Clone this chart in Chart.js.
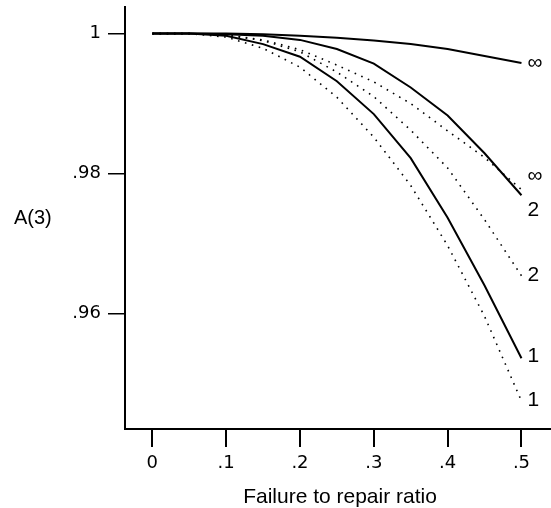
<!DOCTYPE html>
<html>
<head>
<meta charset="utf-8">
<script src="https://cdn.jsdelivr.net/npm/chart.js@4"></script>
<style>
  html, body { margin: 0; padding: 0; background: #fff; }
  #wrap { width: 551px; height: 508px; }
</style>
</head>
<body>
<div id="wrap"><canvas id="availChart" width="551" height="508"></canvas></div>
<script>
// failure to repair ratio
const ratios = [0, 0.05, 0.1, 0.15, 0.2, 0.25, 0.3, 0.35, 0.4, 0.45, 0.5];

// A(3) curves, solid
const solidInf = [1, 1, 1, 0.9999, 0.9997, 0.9994, 0.9990, 0.9985, 0.9978, 0.9968, 0.9958];
const solid2   = [1, 1, 0.9999, 0.9997, 0.9991, 0.9978, 0.9957, 0.9923, 0.9883, 0.9829, 0.9769];
const solid1   = [1, 1, 0.9997, 0.9985, 0.9967, 0.9932, 0.9885, 0.9822, 0.9737, 0.9640, 0.9536];

// A(3) curves, dotted
const dottedInf = [1, 1, 0.9998, 0.9991, 0.9977, 0.9955, 0.9931, 0.9900, 0.9861, 0.9823, 0.9777];
const dotted2   = [1, 1, 0.9998, 0.9990, 0.9974, 0.9945, 0.9910, 0.9862, 0.9808, 0.9734, 0.9654];
const dotted1   = [1, 1, 0.9995, 0.9979, 0.9952, 0.9909, 0.9852, 0.9783, 0.9697, 0.9596, 0.9475];

const xTicks = [0, 0.1, 0.2, 0.3, 0.4, 0.5];
const yTicks = [0.96, 0.98, 1];

const SANS = '"Liberation Sans", Arial, sans-serif';
const TICK_FONT = '"DejaVu Sans", sans-serif';

function pts(vals) {
  return vals.map((v, i) => ({ x: ratios[i], y: v }));
}

// strip leading zero: 0.98 -> .98
function fmt(v) {
  const s = String(Math.round(v * 100) / 100);
  return s.startsWith('0.') ? s.slice(1) : s;
}

function curve(vals, label, dotted, dy) {
  return {
    data: pts(vals),
    endLabel: label,
    labelDy: dy,
    borderColor: '#000',
    borderWidth: dotted ? 1.6 : 2,
    borderDash: dotted ? [1.6, 5.6] : [],
    pointRadius: 0,
    tension: 0,
    fill: false
  };
}

// curve labels and axis titles
const textPlugin = {
  id: 'textPlugin',
  afterDraw(chart) {
    const { ctx, scales: { x, y } } = chart;
    ctx.save();
    ctx.fillStyle = '#000';
    ctx.font = '21px ' + SANS;
    ctx.textAlign = 'left';
    ctx.textBaseline = 'middle';
    chart.data.datasets.forEach(ds => {
      const last = ds.data[ds.data.length - 1];
      ctx.fillText(ds.endLabel, x.getPixelForValue(last.x) + 6, y.getPixelForValue(last.y) + ds.labelDy);
    });
    ctx.textAlign = 'center';
    ctx.textBaseline = 'alphabetic';
    ctx.font = '21px ' + SANS;
    ctx.fillText('Failure to repair ratio', 340, 503);
    ctx.textAlign = 'left';
    ctx.font = '20px ' + SANS;
    ctx.fillText('A(3)', 14, 224);
    ctx.restore();
  }
};

new Chart(document.getElementById('availChart'), {
  type: 'line',
  data: {
    datasets: [
      curve(solidInf, '\u221E', false, 0),
      curve(solid2, '2', false, 15),
      curve(solid1, '1', false, -2),
      curve(dottedInf, '\u221E', true, -13),
      curve(dotted2, '2', true, -1),
      curve(dotted1, '1', true, -1)
    ]
  },
  options: {
    responsive: false,
    animation: false,
    layout: { padding: { top: 7, right: 0, left: 0, bottom: 0 } },
    plugins: { legend: { display: false }, tooltip: { enabled: false } },
    scales: {
      x: {
        type: 'linear',
        min: -0.037,
        max: 0.54,
        afterBuildTicks: s => { s.ticks = xTicks.map(v => ({ value: v })); },
        afterFit: s => { s.height = 79; s.paddingLeft = 0; s.paddingRight = 0; },
        border: { color: '#000', width: 2 },
        grid: { drawOnChartArea: false, drawTicks: true, tickLength: 18, color: '#000', lineWidth: 2 },
        ticks: { color: '#000', padding: 6, maxRotation: 0, font: { family: TICK_FONT, size: 18 }, callback: v => fmt(v) }
      },
      y: {
        min: 0.9435,
        max: 1.0038,
        afterBuildTicks: s => { s.ticks = yTicks.map(v => ({ value: v })); },
        afterFit: s => { s.width = 125; s.paddingTop = 0; s.paddingBottom = 0; },
        border: { color: '#000', width: 2 },
        grid: { drawOnChartArea: false, drawTicks: true, tickLength: 17, color: '#000', lineWidth: 1.5 },
        ticks: { color: '#000', padding: 7, font: { family: TICK_FONT, size: 18 }, callback: v => fmt(v) }
      }
    }
  },
  plugins: [textPlugin]
});
</script>
</body>
</html>
